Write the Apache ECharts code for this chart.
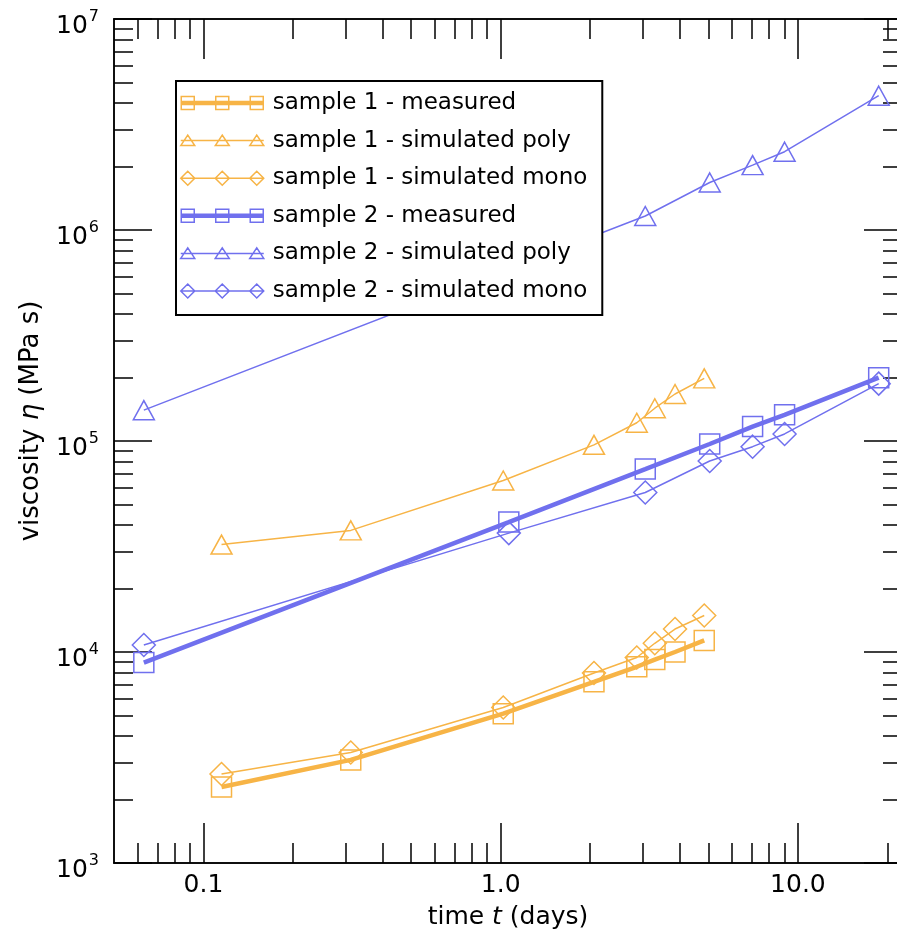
<!DOCTYPE html>
<html>
<head>
<meta charset="utf-8">
<script src="https://cdn.jsdelivr.net/npm/echarts@6/dist/echarts.min.js"></script>
<style>html,body{margin:0;padding:0;background:#fff;}#chart{width:897px;height:936px;}</style>
</head>
<body>
<div id="chart"></div>
<script>
// ---- data ----
const time1 = [0.115, 0.313, 1.02, 2.06, 2.87, 3.30, 3.86, 4.84];
const s1Measured = [2290, 3080, 5100, 7220, 8510, 9210, 10000, 11350];
const s1Poly = [32300, 37700, 65000, 95900, 122000, 143000, 167000, 198000];
const s1Mono = [2640, 3340, 5460, 7950, 9420, 11000, 12850, 14900];

const time2 = [0.063, 1.065, 3.065, 5.05, 7.04, 9.02, 18.7];
const s2Measured = [8910, 41300, 73600, 96800, 117000, 133000, 199500];
const s2Mono = [10800, 36600, 57000, 80400, 94000, 108000, 187000];
const time2Poly = [0.063, 3.065, 5.05, 7.04, 9.02, 18.7];
const s2Poly = [140000, 1165000, 1680000, 2030000, 2350000, 4330000];

const seriesNames = ['sample 1 - measured', 'sample 1 - simulated poly', 'sample 1 - simulated mono',
                     'sample 2 - measured', 'sample 2 - simulated poly', 'sample 2 - simulated mono'];

// ---- axes / ticks ----
const xMin = 0.05, xMax = 22.4;
const yMin = 1e3, yMax = 1e7;
const xMajorTicks = [0.1, 1, 10];
const xMinorTicks = [0.06, 0.07, 0.08, 0.09, 0.2, 0.3, 0.4, 0.5, 0.6, 0.7, 0.8, 0.9,
                     2, 3, 4, 5, 6, 7, 8, 9, 20];
const yMajorTicks = [1e3, 1e4, 1e5, 1e6, 1e7];
const yMinorTicks = [];
[1e3, 1e4, 1e5, 1e6].forEach(d => { for (let m = 2; m <= 9; m++) yMinorTicks.push(m * d); });

const ORANGE = '#F7B446';
const BLUE = '#7070EE';
const FONT = 'DejaVu Sans';

function zip(xs, ys) { return xs.map((x, i) => [x, ys[i]]); }

function xAx(pos, ticks, len, labels) {
  return {
    type: 'log', logBase: 10, min: xMin, max: xMax, position: pos,
    axisLine: { show: true, onZero: false, lineStyle: { color: '#000', width: 1.5 } },
    axisTick: { show: true, inside: true, length: len, customValues: ticks, lineStyle: { color: '#000', width: 1.5 } },
    axisLabel: labels ? {
      show: true, customValues: xMajorTicks, margin: 10, color: '#000',
      fontFamily: FONT, fontSize: 25,
      formatter: v => Number(v).toFixed(1)
    } : { show: false },
    splitLine: { show: false }, minorTick: { show: false }
  };
}
function yAx(pos, ticks, len, labels) {
  return {
    type: 'log', logBase: 10, min: yMin, max: yMax, position: pos,
    axisLine: { show: true, onZero: false, lineStyle: { color: '#000', width: 1.5 } },
    axisTick: { show: true, inside: true, length: len, customValues: ticks, lineStyle: { color: '#000', width: 1.5 } },
    axisLabel: labels ? {
      show: true, customValues: yMajorTicks, margin: 15, color: '#000', padding: [10, 0, 0, 0],
      formatter: v => '{b|10}{s|' + Math.round(Math.log10(v)) + '}',
      rich: {
        b: { fontFamily: FONT, fontSize: 25, color: '#000', lineHeight: 30, verticalAlign: 'bottom' },
        s: { fontFamily: FONT, fontSize: 16, color: '#000', lineHeight: 30, verticalAlign: 'top', padding: [0, 0, 0, 1] }
      }
    } : { show: false },
    splitLine: { show: false }, minorTick: { show: false }
  };
}

const xAxes = [xAx('bottom', xMajorTicks, 40, true), xAx('bottom', xMinorTicks, 20, false),
               xAx('top', xMajorTicks, 40, false), xAx('top', xMinorTicks, 20, false)];
xAxes[0].name = 'time {i|t} (days)';
xAxes[0].nameLocation = 'middle';
xAxes[0].nameGap = 42;
xAxes[0].nameTextStyle = { fontFamily: FONT, fontSize: 25, color: '#000',
  rich: { i: { fontFamily: FONT, fontSize: 25, fontStyle: 'italic', color: '#000' } } };

const yAxes = [yAx('left', yMajorTicks, 38, true), yAx('left', yMinorTicks, 19, false),
               yAx('right', yMajorTicks, 38, false), yAx('right', yMinorTicks, 19, false)];
yAxes[0].name = 'viscosity {i|η} (MPa s)';
yAxes[0].nameLocation = 'middle';
yAxes[0].nameGap = 70;
yAxes[0].nameTextStyle = { fontFamily: FONT, fontSize: 26, color: '#000', padding: [0, 0, 0, 40],
  rich: { i: { fontFamily: FONT, fontSize: 26, fontStyle: 'italic', color: '#000' } } };

function mkSeries(name, xs, ys, color, symbol, size, width) {
  return {
    name, type: 'line', data: zip(xs, ys), xAxisIndex: 0, yAxisIndex: 0,
    symbol, symbolSize: size, showSymbol: true, showAllSymbol: true,
    lineStyle: { color, width },
    itemStyle: { color: 'rgba(255,255,255,0)', borderColor: color, borderWidth: 1.5 },
    emphasis: { disabled: true }, animation: false
  };
}

// legend icons: line with three hollow markers (icon box 83 x 14)
const BOUNDS = 'M0,0L0,0M83,14L83,14';
const LINE_THIN = 'M0,7L83,7';
const LINE_THICK = 'M0,5.5L83,5.5M0,6.5L83,6.5M0,7.5L83,7.5M0,8.5L83,8.5';
const SQUARES = 'M0.5,0.5L13.5,0.5L13.5,13.5L0.5,13.5ZM35,0.5L48,0.5L48,13.5L35,13.5ZM69.5,0.5L82.5,0.5L82.5,13.5L69.5,13.5Z';
const TRIS = 'M0,12L7,1.5L14,12ZM34.5,12L41.5,1.5L48.5,12ZM69,12L76,1.5L83,12Z';
const DIAMS = 'M0,7L7,0L14,7L7,14ZM34.5,7L41.5,0L48.5,7L41.5,14ZM69,7L76,0L83,7L76,14Z';
const legendIcons = [LINE_THICK + SQUARES, LINE_THIN + TRIS, LINE_THIN + DIAMS,
                     LINE_THICK + SQUARES, LINE_THIN + TRIS, LINE_THIN + DIAMS]
                    .map(p => 'path://' + BOUNDS + p);
const legendColors = [ORANGE, ORANGE, ORANGE, BLUE, BLUE, BLUE];

const option = {
  animation: false,
  backgroundColor: '#fff',
  grid: { left: 114, top: 19, width: 788, height: 844, containLabel: false, outerBoundsMode: 'none' },
  xAxis: xAxes,
  yAxis: yAxes,
  legend: {
    data: seriesNames.map((n, i) => ({
      name: n, icon: legendIcons[i],
      itemStyle: { color: 'rgba(255,255,255,0)', borderColor: legendColors[i], borderWidth: 1.5 }
    })),
    orient: 'vertical', left: 176, top: 81,
    backgroundColor: '#fff', borderColor: '#000', borderWidth: 2,
    padding: [8, 15, 10, 4], itemWidth: 83, itemHeight: 14, itemGap: 9.6,
    selectedMode: false,
    textStyle: { fontFamily: FONT, fontSize: 23, color: '#000', lineHeight: 28, padding: [0, 0, 0, 4] }
  },
  series: [
    mkSeries(seriesNames[0], time1, s1Measured, ORANGE, 'rect', 20, 4.5),
    mkSeries(seriesNames[1], time1, s1Poly, ORANGE, 'triangle', [21, 19], 1.5),
    mkSeries(seriesNames[2], time1, s1Mono, ORANGE, 'diamond', 23, 1.5),
    mkSeries(seriesNames[3], time2, s2Measured, BLUE, 'rect', 20, 4.5),
    mkSeries(seriesNames[4], time2Poly, s2Poly, BLUE, 'triangle', [21, 19], 1.5),
    mkSeries(seriesNames[5], time2, s2Mono, BLUE, 'diamond', 23, 1.5)
  ]
};

const chart = echarts.init(document.getElementById('chart'), null, { renderer: 'canvas' });
chart.setOption(option);
</script>
</body>
</html>
